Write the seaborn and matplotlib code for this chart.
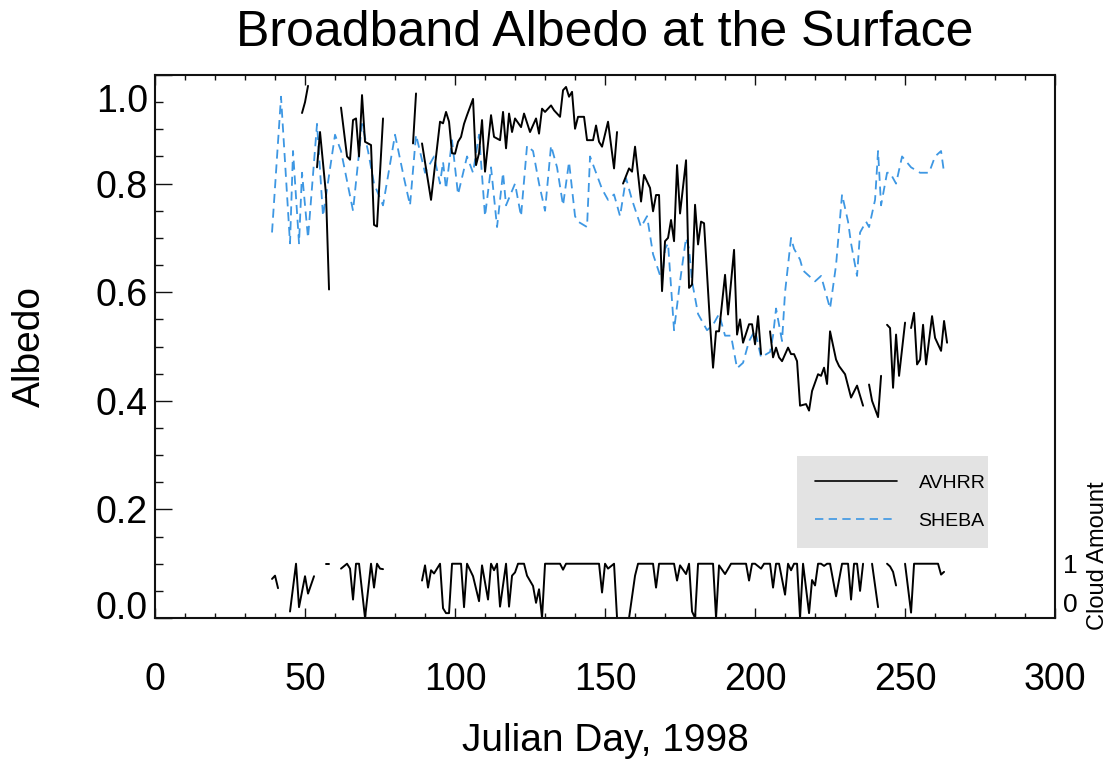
import numpy as np
import pandas as pd
import matplotlib
matplotlib.use("Agg")
import matplotlib.pyplot as plt
from matplotlib.lines import Line2D
from matplotlib.transforms import ScaledTranslation, blended_transform_factory
import seaborn as sns

nan = np.nan

# SHEBA surface albedo (daily, dashed blue)
sheba_day = [39, 42, 45, 46, 48, 49, 51, 54, 56, 60, 62, 66, 69, 71, 73, 76, 80, 83, 85, 87,
             90, 93, 95, 96, 97, 99, 101, 104, 106, 108, 110, 112, 114, 116, 117, 120, 122, 124,
             126, 128, 130, 132, 134, 136, 138, 140, 141, 144, 145, 147, 149, 151, 153, 155, 157,
             159, 162, 164, 166, 169, 170, 171, 173, 175, 177, 178, 179, 181, 184, 186, 188, 190,
             192, 194, 196, 198, 200, 202, 205, 206, 207, 209, 210, 212, 213, 215, 216, 218, 220,
             222, 223, 225, 227, 229, 231, 232, 234, 235, 237, 238, 240, 241, 242, 244, 245, 247,
             249, 252, 255, 258, 260, 262, 263]
sheba_alb = [0.71, 0.96, 0.69, 0.86, 0.69, 0.82, 0.70, 0.91, 0.74, 0.89, 0.86, 0.75, 0.91, 0.86,
             0.80, 0.76, 0.89, 0.81, 0.76, 0.89, 0.82, 0.85, 0.80, 0.84, 0.79, 0.88, 0.78, 0.85,
             0.82, 0.89, 0.74, 0.83, 0.72, 0.82, 0.76, 0.80, 0.74, 0.87, 0.86, 0.80, 0.75, 0.87,
             0.83, 0.76, 0.84, 0.74, 0.73, 0.72, 0.85, 0.82, 0.79, 0.77, 0.78, 0.74, 0.81, 0.77,
             0.72, 0.74, 0.67, 0.62, 0.68, 0.69, 0.53, 0.62, 0.70, 0.68, 0.62, 0.56, 0.53, 0.54,
             0.56, 0.52, 0.52, 0.46, 0.47, 0.51, 0.53, 0.48, 0.49, 0.52, 0.57, 0.51, 0.60, 0.70,
             0.68, 0.66, 0.64, 0.63, 0.62, 0.63, 0.61, 0.57, 0.65, 0.78, 0.73, 0.69, 0.63, 0.71,
             0.73, 0.72, 0.77, 0.86, 0.76, 0.82, 0.82, 0.80, 0.85, 0.83, 0.82, 0.82, 0.85, 0.86,
             0.82]

# AVHRR retrieved albedo (NaN marks days without a retrieval)
avhrr_day = [49, 50, 51, 52,
             54, 55, 57, 58, 59,
             62, 64, 65, 66, 67, 68, 69, 70, 72, 73, 74, 76, 77,
             86, 87, 88,
             89, 92, 95, 96, 97, 98, 99, 100, 101, 102, 103, 104, 106, 107, 108, 109, 110, 112,
             113, 115, 116, 117, 118, 119, 120, 122, 123, 125, 127, 128, 129, 130, 132, 133, 135,
             136, 137, 138, 139, 140, 141, 143, 144, 146, 147, 148, 149, 151, 153, 154, 155,
             156, 158, 159, 160, 162, 163, 165, 166, 167, 168, 169, 170, 171, 172, 173, 174, 175,
             177, 178, 179, 180, 181, 182, 183, 185, 186, 187, 188, 190, 191, 193, 194, 195, 196,
             198, 199, 200, 201, 202, 203,
             205, 206, 207, 208, 209, 211, 212, 213, 214, 215, 217, 218, 219, 221, 222, 223, 224,
             225, 227, 228, 230, 232, 234, 236, 237,
             238, 239, 241, 242, 243,
             244, 245, 246, 247, 248, 250, 251,
             252, 253, 254, 255, 256, 257, 259, 260, 262, 263, 264]
avhrr_alb = [0.93, 0.95, 0.98, nan,
             0.83, 0.895, 0.78, 0.605, nan,
             0.94, 0.85, 0.844, 0.917, 0.92, 0.85, 0.963, 0.877, 0.871, 0.724, 0.721, 0.92, nan,
             0.874, 0.966, nan,
             0.874, 0.770, 0.914, 0.911, 0.932, 0.914, 0.856, 0.855, 0.877, 0.886, 0.910, 0.926,
             0.956, 0.834, 0.856, 0.917, 0.822, 0.926, 0.886, 0.880, 0.932, 0.865, 0.929, 0.895,
             0.920, 0.904, 0.929, 0.895, 0.920, 0.892, 0.938, 0.932, 0.944, 0.935, 0.923, 0.972,
             0.978, 0.960, 0.969, 0.901, 0.923, 0.923, 0.880, 0.880, 0.907, 0.877, 0.868, 0.914,
             0.828, 0.895, nan,
             0.800, 0.828, 0.822, 0.868, 0.767, 0.816, 0.792, 0.749, 0.779, 0.779, 0.602, 0.694,
             0.700, 0.733, 0.694, 0.834, 0.745, 0.843, 0.608, 0.614, 0.761, 0.688, 0.730, 0.727,
             0.541, 0.461, 0.528, 0.528, 0.632, 0.559, 0.678, 0.522, 0.550, 0.507, 0.541, 0.541,
             0.504, 0.556, 0.486, nan,
             0.528, 0.480, 0.498, 0.480, 0.473, 0.498, 0.486, 0.486, 0.473, 0.391, 0.394, 0.382,
             0.418, 0.449, 0.446, 0.461, 0.431, 0.528, 0.476, 0.464, 0.449, 0.406, 0.428, 0.391,
             nan,
             0.430, 0.400, 0.370, 0.446, nan,
             0.540, 0.534, 0.424, 0.522, 0.446, 0.544, nan,
             0.534, 0.562, 0.467, 0.476, 0.540, 0.467, 0.556, 0.516, 0.492, 0.547, 0.507]

# AVHRR cloud amount (0 = clear, 1 = overcast)
cloud_day = [39, 40, 41, 42,
             45, 47, 48, 50, 51, 53, 54,
             57, 58, 59,
             62, 64, 65, 66, 67, 68, 70, 72, 73, 74, 75, 76, 77,
             89, 90, 91, 92, 93, 95, 96, 97, 98, 99, 102, 103, 104, 106, 108, 109, 111, 112, 113,
             114, 115, 117, 118, 119, 120, 121, 123, 124, 126, 127, 128, 129, 130, 135, 136, 137,
             148, 149, 150, 151, 153, 154, 158, 160, 161, 166, 167, 168, 173, 174, 175, 177, 178,
             179, 180, 181, 186, 187, 188, 190, 192, 197, 198, 199, 200, 202, 203, 205, 206, 207,
             208, 210, 211, 212, 213, 214, 215, 216, 218, 219, 220, 221, 222, 223, 224, 225, 227,
             229, 231, 232, 233, 234, 235, 236, 237,
             239, 241, 242,
             244, 245, 246, 247, 248,
             250, 252, 253, 255, 258, 261, 262, 263]
cloud_amt = [0.72, 0.78, 0.55, nan,
             0.12, 1.0, 0.2, 0.77, 0.45, 0.77, nan,
             1.0, 1.0, nan,
             0.91, 1.0, 0.91, 0.34, 1.0, 1.0, 0.0, 1.0, 0.56, 1.0, 0.91, 0.9, nan,
             0.69, 0.97, 0.56, 0.88, 0.82, 1.0, 0.18, 0.09, 0.09, 1.0, 1.0, 0.2, 1.0, 0.77, 0.31,
             0.97, 0.34, 1.0, 0.88, 1.0, 0.21, 1.0, 0.21, 0.78, 0.84, 1.0, 1.0, 0.78, 0.59, 0.28,
             0.53, 0.0, 1.0, 1.0, 0.89, 1.0,
             1.0, 0.47, 1.0, 0.91, 1.0, 0.0, 0.0, 0.78, 1.0, 1.0, 0.56, 1.0, 1.0, 0.69, 0.97, 0.81,
             1.0, 0.12, 0.0, 1.0, 1.0, 0.0, 0.97, 0.81, 1.0, 1.0, 0.69, 1.0, 1.0, 0.91, 1.0, 1.0,
             0.56, 1.0, 1.0, 0.43, 1.0, 0.88, 1.0, 1.0, 0.0, 1.0, 0.09, 0.7, 0.6, 1.0, 1.0, 0.96,
             1.0, 1.0, 0.4, 1.0, 1.0, 0.34, 1.0, 1.0, 0.5, 1.0, nan,
             1.0, 0.2, nan,
             1.0, 0.95, 0.85, 0.6, nan,
             1.0, 0.1, 1.0, 1.0, 1.0, 1.0, 0.8, 0.85]

CLOUD_SCALE = 0.1  # cloud amount drawn on the albedo axis: 1 -> 0.1

y_ticks = [0.0, 0.2, 0.4, 0.6, 0.8, 1.0]
y_ticklabels = ["0.0", "0.2", "0.4", "0.6", "0.8", "1.0"]
x_ticks = [0, 50, 100, 150, 200, 250, 300]


def with_segments(days, values, name):
    """Tabulate a series; NaN rows split it into separately drawn runs."""
    df = pd.DataFrame({"day": days, name: values})
    df["seg"] = df[name].isna().cumsum()
    return df.dropna()


sns.set_theme(style="ticks")
plt.rcParams["font.family"] = ["Liberation Sans", "DejaVu Sans"]
plt.rcParams["text.color"] = "black"
plt.rcParams["axes.labelcolor"] = "black"
plt.rcParams["xtick.color"] = "black"
plt.rcParams["ytick.color"] = "black"

fig = plt.figure(figsize=(11.12, 7.63), dpi=100)
ax = fig.add_axes([0.1394, 0.190, 0.8094, 0.7117])

sheba_df = pd.DataFrame({"day": sheba_day, "albedo": sheba_alb})
avhrr_df = with_segments(avhrr_day, avhrr_alb, "albedo")
cloud_df = with_segments(cloud_day, cloud_amt, "cloud")
cloud_df["scaled"] = cloud_df["cloud"] * CLOUD_SCALE

sheba_color = "#3d97e3"
dash = (0, (5, 3.2))

sns.lineplot(data=sheba_df, x="day", y="albedo", ax=ax, color=sheba_color,
             linewidth=1.3, linestyle=dash, estimator=None, sort=False, legend=False)
sns.lineplot(data=avhrr_df, x="day", y="albedo", units="seg", estimator=None, ax=ax,
             color="black", linewidth=1.4, sort=False, legend=False)
sns.lineplot(data=cloud_df, x="day", y="scaled", units="seg", estimator=None, ax=ax,
             color="black", linewidth=1.4, sort=False, legend=False)

ax.set_xlim(0, 300)
ax.set_ylim(0, 1.0)
ax.set_xticks(x_ticks)
ax.set_xticks(np.arange(0, 301, 10), minor=True)
ax.set_yticks(y_ticks)
ax.set_yticklabels(y_ticklabels)
ax.set_yticks(np.arange(0, 1.001, 0.05), minor=True)

for side in ["left", "right", "top", "bottom"]:
    ax.spines[side].set_linewidth(1.5)
    ax.spines[side].set_color("#111111")

ax.tick_params(axis="x", which="both", direction="in", top=True, bottom=True,
               width=1.0, color="#111111", labelsize=27, pad=32)
ax.tick_params(axis="x", which="major", length=7)
ax.tick_params(axis="x", which="minor", length=3.8)
ax.tick_params(axis="y", which="both", direction="in", left=True, right=False,
               width=1.0, color="#111111", labelsize=27, pad=5)
ax.tick_params(axis="y", which="major", length=12.5)
ax.tick_params(axis="y", which="minor", length=6)

# the end labels sit just inside the frame
for lab in ax.get_yticklabels():
    txt = lab.get_text()
    if txt == "1.0":
        lab.set_transform(lab.get_transform() + ScaledTranslation(0, -0.23, fig.dpi_scale_trans))
    elif txt == "0.0":
        lab.set_transform(lab.get_transform() + ScaledTranslation(0, 0.13, fig.dpi_scale_trans))

ax.set_xlabel("Julian Day, 1998", fontsize=28)
ax.xaxis.label.set_va("center")
ax.xaxis.set_label_coords(0.5, -0.226)
ax.set_ylabel("Albedo", fontsize=28)
ax.yaxis.label.set_va("center")
ax.yaxis.set_label_coords(-0.139, 0.5)

fig.text(0.5441, 0.957, "Broadband Albedo at the Surface", fontsize=36,
         ha="center", va="center")

# cloud amount scale on the right side
trans = blended_transform_factory(ax.transAxes, ax.transData)
ax.text(1.017, 1 * CLOUD_SCALE - 0.005, "1", transform=trans, fontsize=19,
        ha="center", va="center")
ax.text(1.017, 0.024, "0", transform=trans, fontsize=19, ha="center", va="center")
ax.text(1.048, 0.115, "Cloud Amount", transform=trans, fontsize=17, rotation=90,
        ha="center", va="center")

handles = [Line2D([], [], color="black", linewidth=1.2),
           Line2D([], [], color=sheba_color, linewidth=1.2, linestyle=dash)]
leg = ax.legend(handles, ["AVHRR", "SHEBA"], loc="upper left",
                bbox_to_anchor=(0.7133, 0.299, 0.2125, 0.0), mode="expand",
                borderaxespad=0, fontsize=14, handlelength=4.2, handletextpad=1.1,
                labelspacing=1.05, borderpad=0.95, frameon=True, fancybox=False,
                framealpha=1.0)
leg.get_frame().set_facecolor("#e3e3e3")
leg.get_frame().set_edgecolor("none")

fig.savefig("out.png", dpi=100)
